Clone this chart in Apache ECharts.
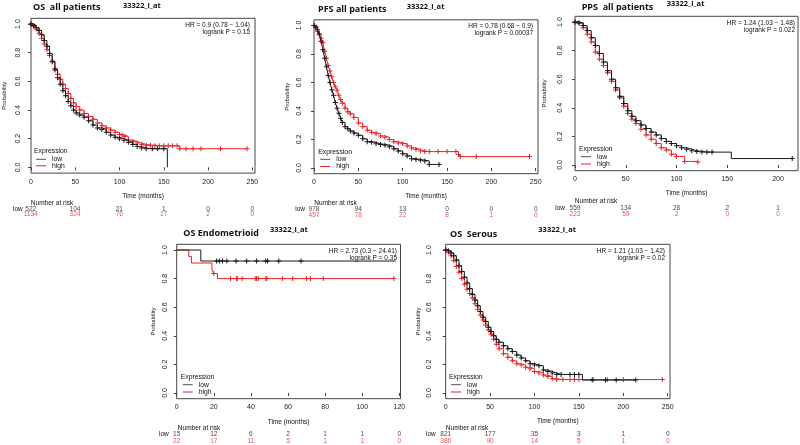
<!DOCTYPE html>
<html><head><meta charset="utf-8">
<script src="https://cdn.jsdelivr.net/npm/echarts@6/dist/echarts.min.js"></script>
<style>html,body{margin:0;padding:0;background:#fff}#c{width:800px;height:445px}</style>
</head><body><div id="c"></div>
<script>
// ---------------- DATA ----------------
const timeTicksAll = [0, 50, 100, 150, 200, 250];
const timeTicksPPS = [0, 50, 100, 150, 200];
const timeTicksEndo = [0, 20, 40, 60, 80, 100, 120];
const probTicks = [0, 0.2, 0.4, 0.6, 0.8, 1.0];
const groups = ['low', 'high'];

// [time, probability, (0 = event only, no censor mark)]
const osAllLow = [[0,1],[3,0.99],[6,0.975],[9,0.955],[12,0.925],[15,0.885],[18,0.845],[21,0.795],[24,0.74],[27,0.68],[30,0.625],[33,0.58],[36,0.535],[39,0.5],[42,0.46],[45,0.43],[48,0.4],[51,0.38],[55,0.365],[60,0.35],[65,0.325],[70,0.295],[75,0.275],[80,0.265],[85,0.245],[90,0.225],[95,0.21],[100,0.2],[105,0.19],[110,0.175],[115,0.16],[120,0.145],[125,0.135],[130,0.13],[137,0.13],[143,0.13],[150,0.13],[154,0,0]];
const osAllHigh = [[0,1],[3,0.985],[6,0.965],[9,0.935],[12,0.9],[15,0.86],[18,0.82],[21,0.78],[24,0.735],[27,0.69],[30,0.65],[33,0.615],[36,0.58],[39,0.55],[42,0.515],[45,0.48],[48,0.45],[51,0.425],[55,0.4],[60,0.375],[65,0.355],[70,0.335],[75,0.31],[80,0.29],[85,0.275],[90,0.26],[95,0.245],[100,0.23],[103,0.225],[106,0.215],[110,0.19],[115,0.18],[120,0.17],[125,0.16],[130,0.155],[135,0.155],[140,0.15],[145,0.15],[150,0.15],[155,0.15],[160,0.15],[165,0.15],[168,0.13],[175,0.13],[183,0.13],[192,0.13],[214,0.13],[244,0.13]];

const pfsLow = [[0,1],[2,0.99],[4,0.97],[6,0.94],[8,0.89],[10,0.83],[12,0.77],[14,0.71],[16,0.65],[18,0.6],[20,0.55],[22,0.51],[24,0.46],[26,0.42],[28,0.385],[30,0.35],[32,0.32],[35,0.29],[38,0.275],[41,0.26],[45,0.245],[50,0.23],[55,0.205],[60,0.185],[65,0.18],[70,0.17],[75,0.165],[80,0.16],[85,0.15],[90,0.135],[95,0.12],[100,0.1],[105,0.085],[110,0.065],[115,0.06],[120,0.055],[125,0.05],[130,0.025],[141,0.025]];
const pfsHigh = [[0,1],[2,0.985],[4,0.96],[6,0.935],[8,0.91],[10,0.88],[12,0.82],[14,0.77],[16,0.72],[18,0.68],[20,0.64],[22,0.6],[24,0.57],[26,0.545],[28,0.51],[30,0.48],[32,0.455],[35,0.42],[38,0.395],[41,0.38],[45,0.355],[50,0.315],[55,0.29],[60,0.265],[65,0.25],[70,0.24],[75,0.225],[80,0.215],[85,0.2],[90,0.185],[95,0.175],[100,0.17],[105,0.155],[110,0.14],[115,0.13],[120,0.12],[125,0.115],[130,0.115],[140,0.115],[150,0.115],[160,0.115],[163,0.095],[165,0.08],[183,0.08],[243,0.08]];

const ppsLow = [[0,1],[4,0.995],[8,0.975],[12,0.94],[16,0.89],[20,0.835],[24,0.78],[28,0.72],[32,0.66],[36,0.6],[40,0.54],[44,0.48],[48,0.43],[52,0.38],[56,0.34],[60,0.31],[65,0.28],[70,0.255],[75,0.23],[80,0.21],[85,0.185],[90,0.165],[95,0.15],[100,0.135],[105,0.12],[110,0.11],[115,0.1],[120,0.095],[125,0.09],[130,0.09],[135,0.09],[154,0.045,0],[214,0.045]];
const ppsHigh = [[0,1],[4,0.99],[8,0.96],[12,0.915],[16,0.86],[20,0.79],[24,0.74],[28,0.695],[32,0.645],[36,0.585],[40,0.525],[44,0.47],[48,0.41],[52,0.36],[56,0.32],[60,0.29],[65,0.25],[70,0.21],[75,0.18],[80,0.15],[85,0.12],[90,0.105],[95,0.075],[100,0.06],[108,0.025],[121,0.02]];

const endoLow = [[0,1,0],[13,0.923,0],[21.5,0.923],[23,0.923],[24.7,0.923],[27,0.923],[32,0.923],[37.7,0.923],[43,0.923],[48,0.923],[49,0.923],[55,0.923],[67,0.923],[118,0.923,0]];
const endoHigh = [[0,1,0],[6.5,0.955,0],[8,0.909,0],[19,0.86,0],[20,0.835],[22,0.8,0],[29,0.8],[32.3,0.8],[32.6,0.8],[35.3,0.8],[42.3,0.8],[43,0.8],[44,0.8],[48,0.8],[48.6,0.8],[57,0.8],[62.5,0.8],[70,0.8],[72,0.8],[79,0.8],[117,0.8]];

const serLow = [[0,1],[3,0.995],[6,0.98],[9,0.96],[12,0.93],[15,0.89],[18,0.85],[21,0.81],[24,0.77],[27,0.73],[30,0.69],[33,0.65],[36,0.61],[39,0.57],[42,0.53],[45,0.5],[48,0.46],[51,0.43],[54,0.4],[57,0.375],[60,0.355],[65,0.33],[70,0.31],[75,0.29],[80,0.265],[85,0.245],[90,0.225],[95,0.205],[100,0.195],[105,0.19],[110,0.16],[115,0.15],[120,0.14],[125,0.13],[130,0.13],[140,0.13],[145,0.13],[150,0.13],[154,0.09,0],[165,0.09],[180,0.09],[192,0.09],[214,0.09]];
const serHigh = [[0,1],[3,0.985],[6,0.96],[9,0.925],[12,0.885],[15,0.845],[18,0.8],[21,0.76],[24,0.725],[27,0.695],[30,0.665],[33,0.625],[36,0.585],[39,0.545],[42,0.51],[45,0.475],[48,0.44],[51,0.41],[54,0.375],[57,0.34],[60,0.31],[65,0.275],[70,0.25],[75,0.225],[80,0.205],[85,0.195],[90,0.18],[95,0.17],[100,0.15],[105,0.14],[110,0.125],[115,0.115],[120,0.1],[125,0.094],[132,0.094],[140,0.094],[145,0.094],[150,0.094],[166,0.094],[182,0.094],[200,0.094],[244,0.094]];

const riskOsAllLow = [522, 104, 21, 1, 0, 0];
const riskOsAllHigh = [1134, 324, 76, 17, 2, 0];
const riskPfsLow = [978, 94, 13, 0, 0, 0];
const riskPfsHigh = [457, 78, 22, 8, 1, 0];
const riskPpsLow = [559, 134, 28, 2, 1];
const riskPpsHigh = [223, 59, 2, 0, 0];
const riskEndoLow = [15, 12, 6, 2, 1, 1, 0];
const riskEndoHigh = [22, 17, 11, 5, 1, 1, 0];
const riskSerLow = [821, 177, 35, 3, 1, 0];
const riskSerHigh = [386, 90, 14, 5, 1, 0];

const titles = ['OS  all patients', 'PFS all patients', 'PPS  all patients', 'OS Endometrioid', 'OS  Serous'];
const probeName = '33322_i_at';
const hrTexts = ['HR = 0.9 (0.78 \u2212 1.04)', 'HR = 0.78 (0.68 \u2212 0.9)', 'HR = 1.24 (1.03 \u2212 1.48)', 'HR = 2.73 (0.3 \u2212 24.41)', 'HR = 1.21 (1.03 \u2212 1.42)'];
const pTexts = ['logrank P = 0.15', 'logrank P = 0.00037', 'logrank P = 0.022', 'logrank P = 0.35', 'logrank P = 0.02'];

const panels = [
  {low: osAllLow, high: osAllHigh, ticks: timeTicksAll, rLow: riskOsAllLow, rHigh: riskOsAllHigh},
  {low: pfsLow, high: pfsHigh, ticks: timeTicksAll, rLow: riskPfsLow, rHigh: riskPfsHigh},
  {low: ppsLow, high: ppsHigh, ticks: timeTicksPPS, rLow: riskPpsLow, rHigh: riskPpsHigh},
  {low: endoLow, high: endoHigh, ticks: timeTicksEndo, rLow: riskEndoLow, rHigh: riskEndoHigh},
  {low: serLow, high: serHigh, ticks: timeTicksAll, rLow: riskSerLow, rHigh: riskSerHigh}
];

// ---------------- LAYOUT ----------------
const geo = [
  {left: 30.7, top: 18.3, width: 224.3, height: 154.8, xmax: 253, yLabM: 9, yNameGap: 24, xNameGap: 19.5, rTop: 206.8, rH: 10, rM: 8,
   title: [33, 7.5], probe: [123, 6], hr: [250, 25, 32.3], leg: [34, 151, 159.3, 165.8], nar: [52, 203]},
  {left: 314, top: 19.8, width: 224, height: 153.9, xmax: 252.6, yLabM: 11, yNameGap: 23.5, xNameGap: 19, rTop: 206.5, rH: 11.2, rM: 9,
   title: [318, 9.5], probe: [406.7, 6.7], hr: [533, 26, 33], leg: [318.3, 152.3, 159.3, 166.5], nar: [335.5, 203.3]},
  {left: 575, top: 16.3, width: 223, height: 154.4, xmax: 219.7, yLabM: 11, yNameGap: 28, xNameGap: 19, rTop: 205, rH: 12, rM: 10,
   title: [581.7, 7], probe: [666.7, 4], hr: [795, 23, 30], leg: [579, 149, 156.7, 164], nar: [596, 201]},
  {left: 176.7, top: 244.3, width: 223.8, height: 154.4, xmax: 120.6, yLabM: 8, yNameGap: 20, xNameGap: 20, rTop: 430.4, rH: 15.4, rM: 8,
   title: [183.3, 233.3], probe: [270, 230], hr: [397, 251, 258], leg: [180.7, 376.7, 384.7, 392], nar: [199, 428]},
  {left: 445.7, top: 244.3, width: 224.3, height: 154.4, xmax: 252.6, yLabM: 13, yNameGap: 24, xNameGap: 19.5, rTop: 430.4, rH: 15.4, rM: 10,
   title: [450, 234], probe: [538.3, 230], hr: [665, 251, 258], leg: [449, 376.7, 384.7, 392], nar: [467, 428]}
];

const RED = '#e8262a', BLACK = '#1a1a1a', AXC = '#444';
const FF = '"Liberation Sans", Arial, sans-serif';
const PLUS = 'path://M4,0H6V4H10V6H6V10H4V6H0V4H4Z';

const grid = [], xAxis = [], yAxis = [], series = [], graphic = [];

function txt(text, x, y, size, color, align, weight, family) {
  graphic.push({type: 'text', silent: true, style: {text, x, y, fill: color || '#111',
    font: (weight || 'normal') + ' ' + size + 'px ' + (family || FF), align: align || 'left', verticalAlign: 'middle'}});
}
function seg(x1, y1, x2, y2, color) {
  graphic.push({type: 'line', silent: true, shape: {x1, y1, x2, y2}, style: {stroke: color, lineWidth: 1}});
}
function curve(arr) {
  return arr.map(d => d[2] === 0 ? {value: [d[0], d[1]], symbol: 'none'} : [d[0], d[1]]);
}

panels.forEach((P, i) => {
  const g = geo[i];
  // main plot
  const gi = grid.length;
  grid.push({left: g.left, top: g.top, width: g.width, height: g.height, show: true, borderColor: AXC, borderWidth: 1});
  xAxis.push({gridIndex: gi, type: 'value', min: 0, max: g.xmax, name: 'Time (months)', nameLocation: 'middle', nameGap: g.xNameGap,
    nameTextStyle: {fontSize: 6.5, fontFamily: FF, color: '#111'},
    axisLine: {show: false}, splitLine: {show: false},
    axisTick: {show: true, length: 3, customValues: P.ticks, lineStyle: {color: AXC}},
    axisLabel: {customValues: P.ticks, fontSize: 7, fontFamily: FF, color: '#222', margin: 5}});
  yAxis.push({gridIndex: gi, type: 'value', min: -0.04, max: 1.04, name: 'Probability', nameLocation: 'middle', nameRotate: 90, nameGap: g.yNameGap,
    nameTextStyle: {fontSize: 6, fontFamily: FF, color: '#111'},
    axisLine: {show: false}, splitLine: {show: false},
    axisTick: {show: true, length: 3, customValues: probTicks, lineStyle: {color: AXC}},
    axisLabel: {customValues: probTicks, rotate: 90, fontSize: 7, fontFamily: FF, color: '#222', margin: g.yLabM,
      formatter: v => Number(v).toFixed(1)}});
  [['high', P.high, RED], ['low', P.low, BLACK]].forEach(([nm, arr, col]) => {
    series.push({type: 'line', name: nm, xAxisIndex: gi, yAxisIndex: gi, step: 'end', data: curve(arr),
      symbol: PLUS, symbolSize: 5, showSymbol: true, showAllSymbol: true,
      lineStyle: {color: col, width: 1}, itemStyle: {color: col}, emphasis: {disabled: true}, z: nm === 'low' ? 3 : 2});
  });
  // risk table
  const ri = grid.length;
  grid.push({left: g.left, top: g.rTop, width: g.width, height: g.rH});
  xAxis.push({gridIndex: ri, type: 'value', min: 0, max: g.xmax, show: false});
  yAxis.push({gridIndex: ri, type: 'category', data: groups, inverse: true,
    axisLine: {show: false}, axisTick: {show: false}, splitLine: {show: false},
    axisLabel: {fontSize: 6.5, fontFamily: FF, margin: g.rM, color: (v) => v === 'high' ? RED : '#111'}});
  [[P.rLow, 0, '#111'], [P.rHigh, 1, RED]].forEach(([vals, row, col]) => {
    series.push({type: 'scatter', xAxisIndex: ri, yAxisIndex: ri, symbolSize: 1, itemStyle: {color: 'rgba(0,0,0,0)'},
      data: P.ticks.map((t, k) => [t, row, vals[k]]),
      label: {show: true, position: 'inside', formatter: p => String(p.value[2]), fontSize: 6.5, fontFamily: FF, color: col},
      emphasis: {disabled: true}, silent: true});
  });
  // texts
  txt(titles[i], g.title[0], g.title[1], 9, '#111', 'left', 'bold', '"Open Sans", "Liberation Sans", sans-serif');
  txt(probeName, g.probe[0], g.probe[1], 7.5, '#111', 'left', 'bold', '"Open Sans", "Liberation Sans", sans-serif');
  txt(hrTexts[i], g.hr[0], g.hr[1], 6.5, '#111', 'right');
  txt(pTexts[i], g.hr[0], g.hr[2], 6.5, '#111', 'right');
  txt('Expression', g.leg[0], g.leg[1], 6.8, '#111');
  seg(g.leg[0] + 2, g.leg[2], g.leg[0] + 12, g.leg[2], '#555');
  seg(g.leg[0] + 2, g.leg[3], g.leg[0] + 12, g.leg[3], RED);
  txt('low', g.leg[0] + 18, g.leg[2], 6.8, '#111');
  txt('high', g.leg[0] + 18, g.leg[3], 6.8, '#111');
  txt('Number at risk', g.nar[0], g.nar[1], 6.5, '#111', 'center');
});

const chart = echarts.init(document.getElementById('c'), null, {renderer: 'canvas'});
chart.setOption({animation: false, backgroundColor: '#fff', grid, xAxis, yAxis, series, graphic});
</script>
</body></html>
